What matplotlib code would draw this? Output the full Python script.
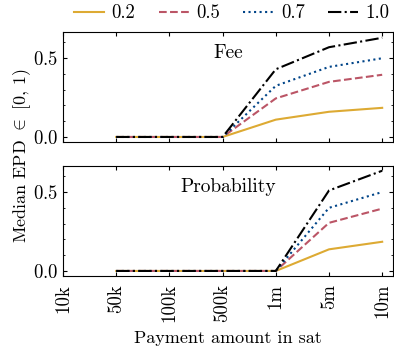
import numpy as np
import matplotlib
matplotlib.use("Agg")
from matplotlib import pyplot as plt
from matplotlib.ticker import MultipleLocator

# categories on x axis
amounts = ["10k", "50k", "100k", "500k", "1m", "5m", "10m"]
# data exists from 50k to 10m
data_idx = [1, 2, 3, 4, 5, 6]
alphas = ["0.2", "0.5", "0.7", "1.0"]

fee_02 = [0, 0, 0, 0.11, 0.16, 0.185]
fee_05 = [0, 0, 0, 0.245, 0.35, 0.395]
fee_07 = [0, 0, 0, 0.325, 0.445, 0.50]
fee_10 = [0, 0, 0, 0.43, 0.57, 0.63]

prob_02 = [0, 0, 0, 0, 0.137, 0.185]
prob_05 = [0, 0, 0, 0, 0.305, 0.395]
prob_07 = [0, 0, 0, 0, 0.40, 0.50]
prob_10 = [0, 0, 0, 0, 0.51, 0.635]

colors = ["#DDAA33", "#BB5566", "#004488", "black"]
styles = ["-", "--", ":", "-."]

plt.rcParams["font.family"] = ["cmr10", "DejaVu Serif"]
plt.rcParams["mathtext.fontset"] = "cm"
plt.rcParams["axes.unicode_minus"] = False
plt.rcParams["axes.formatter.use_mathtext"] = True
plt.rcParams["font.size"] = 13
plt.rcParams["xtick.labelsize"] = 13.5
plt.rcParams["ytick.labelsize"] = 13.5
plt.rcParams["xtick.direction"] = "in"
plt.rcParams["ytick.direction"] = "in"
plt.rcParams["xtick.top"] = True
plt.rcParams["ytick.right"] = True
plt.rcParams["xtick.major.size"] = 3
plt.rcParams["ytick.major.size"] = 3
plt.rcParams["ytick.minor.size"] = 1.5
plt.rcParams["xtick.major.pad"] = 6
plt.rcParams["axes.linewidth"] = 0.8

fig = plt.figure(figsize=(3.94, 3.53), dpi=100)
ax1 = fig.add_axes([0.16, 0.5986, 0.837, 0.31])
ax2 = fig.add_axes([0.16, 0.219, 0.837, 0.3107])

fee = [fee_02, fee_05, fee_07, fee_10]
prob = [prob_02, prob_05, prob_07, prob_10]

for ax, series, title in [(ax1, fee, "Fee"), (ax2, prob, "Probability")]:
    for vals, c, ls, lab in zip(series, colors, styles, alphas):
        ax.plot(data_idx, vals, color=c, linestyle=ls, linewidth=1.5, label=lab)
    ax.set_xlim(0, 6.2)
    ax.set_ylim(-0.03, 0.665)
    ax.set_xticks(range(len(amounts)))
    ax.yaxis.set_major_locator(MultipleLocator(0.5))
    ax.yaxis.set_minor_locator(MultipleLocator(0.1))
    ax.text(0.5, 0.81, title, transform=ax.transAxes, ha="center", va="center",
            fontsize=14)

ax1.set_xticklabels([])
ax2.set_xticklabels(amounts, rotation=90)
ax2.set_xlabel("Payment amount in sat", fontsize=13, labelpad=6)
fig.text(0.055, 0.56, r"Median EPD $\in$ [0, 1)", rotation=90, ha="center", va="center",
         fontsize=13)

handles, labels = ax1.get_legend_handles_labels()
fig.legend(handles, labels, loc="upper center", bbox_to_anchor=(0.588, 1.035), ncol=4,
           frameon=False, handlelength=1.6, handletextpad=0.4, columnspacing=1.25,
           fontsize=13.5)

fig.savefig("out.png", dpi=100)
